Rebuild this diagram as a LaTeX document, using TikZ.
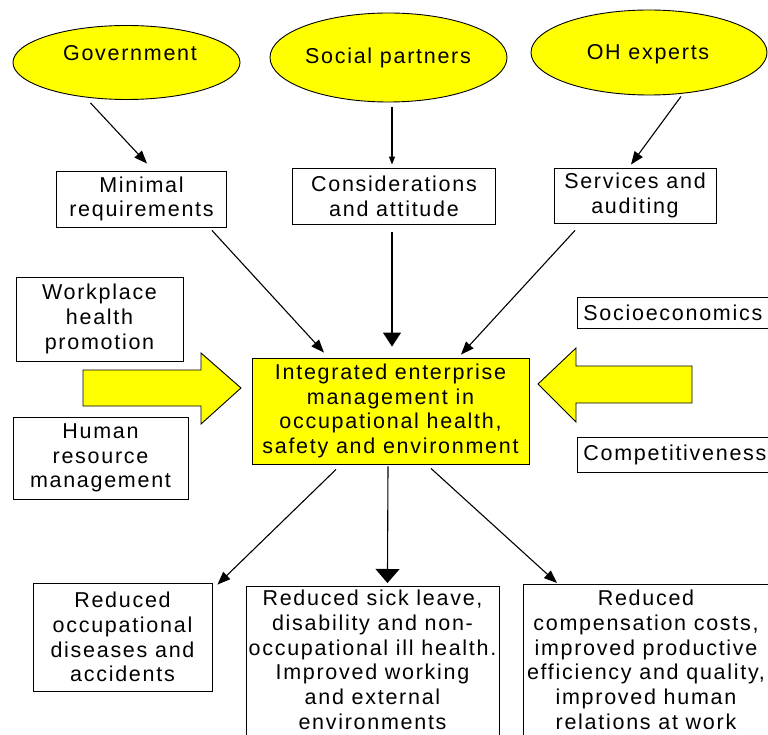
\documentclass[tikz,border=0pt]{standalone}
\usepackage{fontspec}
\setmainfont{Liberation Sans}[LetterSpace=8]
\usetikzlibrary{shapes.geometric,arrows.meta,calc}
\definecolor{yel}{RGB}{255,255,0}
\begin{document}
\begin{tikzpicture}[x=1pt,y=-1pt,
  every node/.style={font=\fontsize{21.5}{24.7}\selectfont},
  box/.style={draw=black, line width=0.9pt, fill=white, align=center, inner sep=0pt},
  oval/.style={ellipse, draw=black, line width=0.9pt, fill=yel, inner sep=0pt},
  txt/.style={align=center, inner sep=0pt},
  arr/.style={line width=1.1pt, -{Triangle[length=13pt,width=10pt]}},
  smallarr/.style={line width=1.1pt, -{Triangle[length=8pt,width=6pt]}},
  bigarr/.style={line width=1.1pt, -{Triangle[length=14pt,width=#1]}},
  blk/.style={draw=black, line width=0.9pt, fill=yel, line join=miter}]
\useasboundingbox (0,0) rectangle (768,735);
\clip (0,0) rectangle (768,735);
% ellipses
\node[oval, minimum width=227pt, minimum height=74pt] (gov) at (126.5,62.5) {};
\node[txt, anchor=base] (govt) at (130,61) {Government};
\node[oval, minimum width=237pt, minimum height=89pt] (soc) at (388.5,57.5) {};
\node[txt, anchor=base] (soct) at (388,64) {Social partners};
\node[oval, minimum width=236pt, minimum height=85pt] (oh) at (649,52.5) {};
\node[txt, anchor=base] (oht) at (648,59.5) {OH experts};
% top boxes
\node[box, minimum width=170pt, minimum height=56pt] (min) at (141.5,199) {Minimal\\requirements};
\node[box, minimum width=203pt, minimum height=56pt] (con) at (394,196) {Considerations\\and attitude};
\node[box, minimum width=162pt, minimum height=55pt] (ser) at (635,195.5) {Services and\\auditing};
% side boxes
\node[box, minimum width=167pt, minimum height=84pt] (wor) at (99.5,319) {Workplace\\health\\promotion};
\node[box, minimum width=175pt, minimum height=82pt] (hum) at (100.5,458) {Human\\resource\\management};
\node[box, anchor=west, minimum width=200pt, minimum height=31pt, text width=188pt, align=left] (soe) at (577,312.5) {Socioeconomics};
\node[box, anchor=west, minimum width=200pt, minimum height=35pt, text width=188pt, align=left] (cmp) at (577,454.5) {Competitiveness};
% centre
\node[box, fill=yel, minimum width=277pt, minimum height=106pt] (ctr) at (390.5,411) {Integrated enterprise\\management in\\occupational health,\\safety and environment};
% bottom boxes
\node[box, minimum width=179pt, minimum height=108pt] (b1) at (122.5,637) {Reduced\\occupational\\diseases and\\accidents};
\node[box, anchor=north west, minimum width=253pt, minimum height=170pt] (b2) at (246,586) {};
\node[txt, anchor=north] (b2t) at (372.5,590) {Reduced sick leave,\\disability and non-\\occupational ill health.\\Improved working\\and external\\environments};
\node[box, anchor=north west, minimum width=260pt, minimum height=170pt] (b3) at (523,584) {};
\node[txt, anchor=north] (b3t) at (646,590) {Reduced\\compensation costs,\\improved productive\\efficiency and quality,\\improved human\\relations at work};
% block arrows
\draw[blk] (83,370) -- (201,370) -- (201,353) -- (241,388) -- (201,424) -- (201,406) -- (83,406) -- cycle;
\draw[blk] (692,366) -- (576,366) -- (576,348) -- (538,384) -- (576,422) -- (576,403) -- (692,403) -- cycle;
% connectors
\draw[arr] ($(gov.south)+(-36,3)$) -- ($(min.north)+(5.5,-7)$);
\draw[smallarr] ($(soc.south)+(3.5,5)$) -- ($(con.north)+(-2,-3)$);
\draw[arr] ($(oh.south)+(32,1)$) -- ($(ser.north)+(-4,-3)$);
\draw[arr] ($(min.south)+(70.5,3)$) -- ($(ctr.north)+(-66.5,-5)$);
\draw[bigarr=18pt] ($(con.south)+(-2,8)$) -- ($(ctr.north)+(1.5,-11)$);
\draw[arr] ($(ser.south)+(-60,7)$) -- ($(ctr.north)+(70.5,-3)$);
\draw[arr] ($(ctr.south)+(-54.5,5)$) -- ($(b1.north east)+(5,2)$);
\draw[bigarr=24pt] ($(ctr.south)+(-2.5,2)$) -- ($(b2.north)+(14.5,-3)$);
\draw[arr] ($(ctr.south)+(40.5,4)$) -- ($(b3.north west)+(34,-1)$);
\end{tikzpicture}
\end{document}
